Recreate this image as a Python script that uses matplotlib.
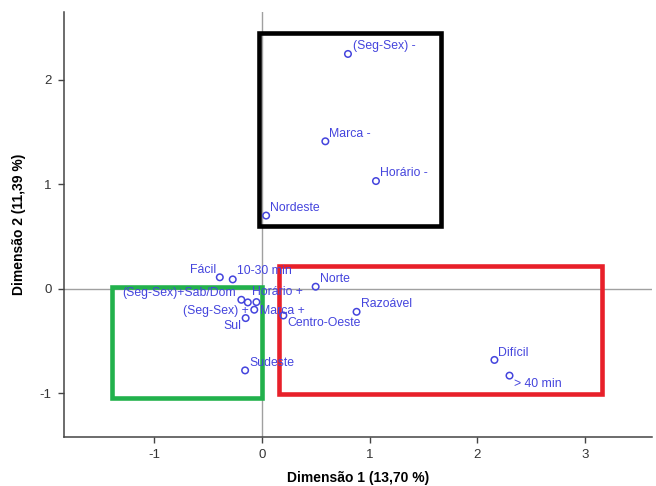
import matplotlib
matplotlib.use("Agg")
import matplotlib.pyplot as plt
from matplotlib.patches import Rectangle

# category coordinates (dim 1, dim 2)
labels = ["(Seg-Sex) -", "Marca -", "Horário -", "Nordeste", "Fácil", "10-30 min",
          "Norte", "(Seg-Sex)+Sab/Dom", "Horário +", "Marca +", "(Seg-Sex) +", "Sul",
          "Centro-Oeste", "Razoável", "Sudeste", "Difícil", "> 40 min"]
dim1 = [0.80, 0.59, 1.06, 0.04, -0.39, -0.27, 0.50, -0.19, -0.13, -0.05, -0.07, -0.15,
        0.20, 0.88, -0.155, 2.16, 2.30]
dim2 = [2.245, 1.41, 1.03, 0.70, 0.11, 0.09, 0.02, -0.105, -0.13, -0.127, -0.20, -0.28,
        -0.255, -0.22, -0.78, -0.68, -0.83]

# highlighted groups: (x0, x1, y0, y1)
box_black = (-0.03, 1.667, 0.60, 2.45)
box_red = (0.16, 3.16, -1.01, 0.217)
box_green = (-1.394, 0.003, -1.046, 0.02)

x_ticks = [-1, 0, 1, 2, 3]
y_ticks = [-1, 0, 1, 2]

# label offsets in pixels (dx, dy, ha)
offsets = [(5, 8, "left"), (4, 7, "left"), (4, 8, "left"), (4, 8, "left"),
           (-4, 7, "right"), (4, 8, "left"), (4, 8, "left"), (-5, 7, "right"),
           (4, 10, "left"), (4, -9, "left"), (-6, -1, "right"), (-4, -8, "right"),
           (4, -8, "left"), (4, 8, "left"), (4, 7, "left"), (4, 7, "left"),
           (4, -8, "left")]

blue = "#4444dd"
sans = ["Liberation Sans", "DejaVu Sans"]

fig = plt.figure(figsize=(6.56, 4.86), dpi=100)
ax = fig.add_axes([0.098, 0.1014, 0.8954, 0.8739])

ax.axhline(0, color="#a0a0a0", lw=1, zorder=1)
ax.axvline(0, color="#a0a0a0", lw=1, zorder=1)

ax.scatter(dim1, dim2, s=22, facecolors="none", edgecolors=blue, linewidths=1.1, zorder=3)
for name, x, y, (dx, dy, ha) in zip(labels, dim1, dim2, offsets):
    ax.annotate(name, (x, y), xytext=(dx, dy), textcoords="offset pixels",
                ha=ha, va="center", color=blue, fontsize=8.8, family=sans, zorder=4)

for (x0, x1, y0, y1), c in [(box_black, "black"), (box_red, "#e8202a"), (box_green, "#22b14c")]:
    ax.add_patch(Rectangle((x0, y0), x1 - x0, y1 - y0, fill=False, edgecolor=c,
                           lw=3.3, zorder=2, joinstyle="miter"))

ax.set_xlim(-1.834, 3.62)
ax.set_ylim(-1.414, 2.646)
ax.set_xticks(x_ticks)
ax.set_yticks(y_ticks)
ax.set_xticklabels([str(v) for v in x_ticks], family=sans, fontsize=9.5, color="#333333")
ax.set_yticklabels([str(v) for v in y_ticks], family=sans, fontsize=9.5, color="#333333")
ax.tick_params(direction="out", length=4, width=1, color="#444444", pad=5)

for s in ["top", "right"]:
    ax.spines[s].set_visible(False)
for s in ["left", "bottom"]:
    ax.spines[s].set_color("#444444")
    ax.spines[s].set_linewidth(1.1)

ax.set_xlabel("Dimensão 1 (13,70 %)", family=sans, fontweight="bold", fontsize=10,
              labelpad=7)
ax.set_ylabel("Dimensão 2 (11,39 %)", family=sans, fontweight="bold", fontsize=10,
              labelpad=10)

fig.savefig("out.png", dpi=100)
